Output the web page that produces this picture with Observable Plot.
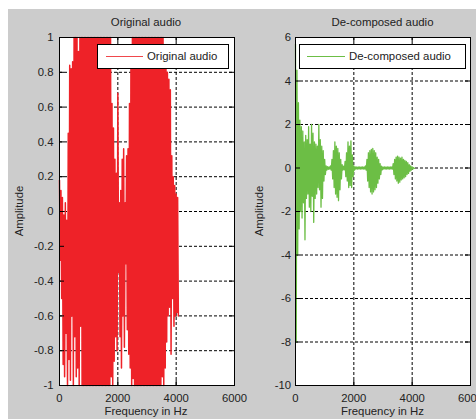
<!DOCTYPE html>
<html><head><meta charset="utf-8">
<script src="https://cdn.jsdelivr.net/npm/d3@7"></script>
<script src="https://cdn.jsdelivr.net/npm/@observablehq/plot@0.6"></script>
<style>
body{margin:0;background:#fff;}
#fig{position:relative;width:476px;height:419px;overflow:hidden;font-family:"Liberation Sans",Arial,sans-serif;color:#222}
#bg{position:absolute;left:8px;top:9px;right:0;bottom:0;background:#cccccc}
.panel{position:absolute;top:0}
.txt{position:absolute;font-size:11.4px;line-height:11.4px;white-space:nowrap}
.center{transform:translateX(-50%)}
.ylabel{transform:translate(-50%,-50%) rotate(-90deg)}
.legend{position:absolute;background:#fff;border:1px solid #000;box-sizing:border-box;height:25px}
.legend .ln{position:absolute;top:11px;height:0;border-top:1.2px solid}
.legend .lt{position:absolute;top:6px;font-size:11.4px;line-height:11.4px;white-space:nowrap}
</style></head>
<body>
<div id="fig">
  <div id="bg"></div>
  <div id="left" class="panel" style="left:0"></div>
  <div id="right" class="panel" style="left:238px"></div>
  <div class="txt center" style="left:146px;top:16.7px">Original audio</div>
  <div class="txt center" style="left:382.5px;top:16.7px">De-composed audio</div>
  <div class="txt center" style="left:146px;top:406.3px">Frequency in Hz</div>
  <div class="txt center" style="left:382.5px;top:406.3px">Frequency in Hz</div>
  <div class="txt ylabel" style="left:20px;top:211px">Amplitude</div>
  <div class="txt ylabel" style="left:260px;top:211px">Amplitude</div>
  <div class="legend" style="left:97px;top:44px;width:132px">
    <div class="ln" style="left:8px;width:37px;border-color:#f0474c"></div>
    <div class="lt" style="left:49px">Original audio</div>
  </div>
  <div class="legend" style="left:299px;top:44px;width:167px">
    <div class="ln" style="left:7px;width:38px;border-color:#6cbe45"></div>
    <div class="lt" style="left:49px">De-composed audio</div>
  </div>
</div>
<script>
// ---- data ----
const hzTicks = [0, 2000, 4000, 6000];
const hzTickLabels = ["0", "2000", "4000", "6000"];
const origTicks = [-1, -0.8, -0.6, -0.4, -0.2, 0, 0.2, 0.4, 0.6, 0.8, 1];
const origTickLabels = ["-1", "-0.8", "-0.6", "-0.4", "-0.2", "0", "0.2", "0.4", "0.6", "0.8", "1"];
const decTicks = [-10, -8, -6, -4, -2, 0, 2, 4, 6];
const decTickLabels = ["-10", "-8", "-6", "-4", "-2", "0", "2", "4", "6"];
const sampleStep = 25; // Hz between successive samples

const origAudio = [
  0.18, -0.28, 0.12, -0.5, 0.08, -0.88, -0.02, -0.95,
  0.05, -0.7, -0.05, -1, 0.45, -0.85, 0.84, -0.97,
  0.82, -0.6, 0.86, -1, 1, -0.72, 1, -0.95,
  1, -0.9, 0.92, -1, 1, -0.66, 1, -1,
  1, -1, 1, -1, 1, -1, 1, -1,
  1, -1, 1, -1, 1, -1, 1, -1,
  1, -1, 1, -1, 1, -1, 1, -1,
  1, -1, 1, -1, 1, -1, 1, -1,
  1, -1, 1, -1, 1, -1, 1, -0.95,
  0.62, -1, 0.48, -0.86, 0.3, -0.72, 0.22, -0.8,
  0.68, -0.35, 0.05, -0.72, 0.12, -0.9, 0.3, -0.6,
  0.36, -0.78, 0.05, -0.3, 0.32, -0.68, 0.36, -0.82,
  0.62, -0.9, 0.92, -1, 1, -0.96, 1, -1,
  1, -1, 1, -1, 1, -1, 1, -1,
  1, -1, 1, -1, 1, -1, 1, -1,
  1, -1, 1, -1, 1, -1, 1, -1,
  1, -1, 1, -1, 1, -1, 1, -1,
  1, -1, 1, -1, 1, -0.95, 1, -1,
  0.95, -0.9, 0.88, -0.75, 0.8, -0.6, 0.76, -0.55,
  0.7, -0.82, 0.32, -0.5, 0.2, -0.66, 0.15, -0.6,
  0.1, -0.58, 0.08, -0.6
];

const decAudio = [
  5.7, -8, 4.5, -4.0, 3.0, -2.8, 2.2, -2.0,
  1.9, -2.3, 1.7, -1.6, 1.2, -3.3, 1.5, -1.4,
  1.3, -1.2, 1.9, -1.8, 1.1, -2.0, 2.0, -1.3,
  1.6, -2.5, 1.2, -1.4, 1.1, -1.2, 1.0, -0.9,
  2.0, -1.0, 1.3, -1.8, 1.0, -1.4, 0.8, -0.6,
  0.4, -0.3, 0.1, -0.1, 0.06, -0.06, 0.05, -0.05,
  0.1, -0.1, 0.4, -0.5, 0.8, -0.9, 1.2, -1.2,
  1.0, -1.35, 0.9, -1.5, 0.7, -1.0, 0.4, -0.5,
  0.15, -0.1, 0.08, -0.08, 0.3, -0.4, 0.7, -0.6,
  1.2, -0.9, 1.0, -0.8, 1.25, -0.9, 0.6, -0.4,
  0.1, -0.1, 0.05, -0.05, 0.05, -0.05, 0.05, -0.05,
  0.05, -0.05, 0.05, -0.05, 0.05, -0.05, 0.05, -0.05,
  0.1, -0.1, 0.4, -0.6, 0.7, -0.9, 0.8, -1.1,
  0.85, -1.2, 0.9, -1.1, 0.8, -1.0, 0.7, -0.9,
  0.5, -0.7, 0.4, -0.5, 0.2, -0.3, 0.08, -0.08,
  0.05, -0.05, 0.05, -0.05, 0.05, -0.05, 0.05, -0.05,
  0.05, -0.05, 0.05, -0.05, 0.05, -0.05, 0.2, -0.3,
  0.4, -0.5, 0.5, -0.6, 0.55, -0.7, 0.5, -0.65,
  0.45, -0.55, 0.5, -0.5, 0.4, -0.45, 0.35, -0.4,
  0.3, -0.3, 0.25, -0.25, 0.15, -0.15, 0.1, -0.1,
  0.05, -0.05, 0.02, -0.02
];

const FONT = '"Liberation Sans", Arial, sans-serif';

function panel(values, color, lineWidth, yDomain, yTicks, yLabels, ml, mr, ypad) {
  const data = values.map((v, i) => ({hz: i * sampleStep, amp: v}));
  const fw = 238 - ml - mr, fh = 419 - 37 - 34;
  return Plot.plot({
    width: 238, height: 419,
    marginLeft: ml, marginRight: mr, marginTop: 37, marginBottom: 34,
    style: {background: "transparent", fontFamily: FONT, fontSize: "11.3px", color: "#222", overflow: "visible"},
    x: {domain: [0, 6000], ticks: hzTicks, tickSize: 0, tickPadding: 8,
        tickFormat: d => hzTickLabels[hzTicks.indexOf(d)], label: null},
    y: {domain: yDomain, ticks: yTicks, tickSize: 0, tickPadding: ypad,
        tickFormat: d => yLabels[yTicks.indexOf(d)], label: null},
    marks: [
      Plot.frame({fill: "white", stroke: null}),
      Plot.ruleX(hzTicks, {x: d => d, stroke: "#000", strokeDasharray: "3,2", strokeWidth: 1}),
      Plot.ruleY(yTicks, {y: d => d, stroke: "#000", strokeDasharray: "3,2", strokeWidth: 1}),
      Plot.line(data, {x: "hz", y: "amp", stroke: color, strokeWidth: lineWidth}),
      Plot.tickX(hzTicks, {x: d => d, stroke: "#000", insetBottom: fh - 5}),
      Plot.tickX(hzTicks, {x: d => d, stroke: "#000", insetTop: fh - 5}),
      Plot.tickY(yTicks, {y: d => d, stroke: "#000", insetRight: fw - 5}),
      Plot.tickY(yTicks, {y: d => d, stroke: "#000", insetLeft: fw - 5}),
      Plot.frame({stroke: "#000", strokeWidth: 1})
    ]
  });
}

document.getElementById("left").appendChild(
  panel(origAudio, "#ee2228", 1.5, [-1, 1], origTicks, origTickLabels, 59, 4, 6));
document.getElementById("right").appendChild(
  panel(decAudio, "#6cbe45", 1.3, [-10, 6], decTicks, decTickLabels, 57, 6, 4.5));
</script>
</body></html>
